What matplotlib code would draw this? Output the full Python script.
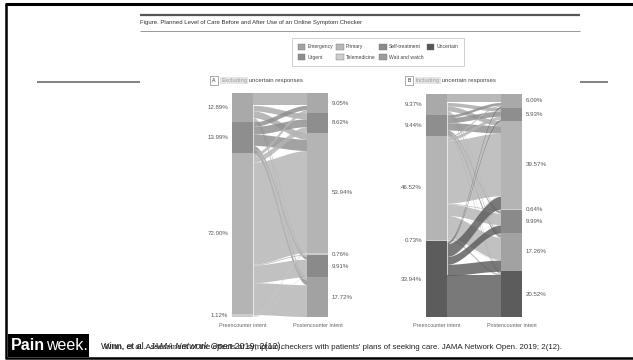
import matplotlib

matplotlib.use("Agg")
import matplotlib.pyplot as plt
import numpy as np
from matplotlib.patches import Patch, Rectangle

plt.rcParams["font.family"] = ["Liberation Sans Narrow", "Liberation Sans", "DejaVu Sans"]

W, H = 633, 360

CATEGORIES = ["Emergency", "Urgent", "Primary", "Telemedicine", "Self-treatment", "Wait and watch", "Uncertain"]
CAT_COLORS = ["#a9a9a9", "#8e8e8e", "#b4b4b4", "#cccccc", "#8a8a8a", "#a2a2a2", "#5c5c5c"]
LEGEND_COLORS = ["#a3a3a3", "#8e8e8e", "#b9b9b9", "#cdcdcd", "#8a8a8a", "#9b9b9b", "#555555"]

# panel A - excluding uncertain responses
A_PRE_CATS = ["Emergency", "Urgent", "Primary", "Telemedicine"]
A_PRE = [12.89, 13.99, 72.00, 1.12]
A_POST_CATS = ["Emergency", "Urgent", "Primary", "Telemedicine", "Self-treatment", "Wait and watch"]
A_POST = [9.05, 8.62, 53.94, 0.76, 9.91, 17.72]
# flows (rows = preencounter, cols = postencounter)
A_FLOWS = [
    [5.50, 2.50, 3.00, 0.10, 0.60, 1.19],
    [2.00, 3.50, 5.00, 0.15, 1.20, 2.14],
    [1.50, 2.50, 45.50, 0.40, 7.90, 14.20],
    [0.05, 0.12, 0.44, 0.11, 0.21, 0.19],
]

# panel B - including uncertain responses
B_PRE_CATS = ["Emergency", "Urgent", "Primary", "Telemedicine", "Uncertain"]
B_PRE = [9.37, 9.44, 46.52, 0.73, 33.94]
B_POST_CATS = ["Emergency", "Urgent", "Primary", "Telemedicine", "Self-treatment", "Wait and watch", "Uncertain"]
B_POST = [6.09, 5.93, 39.57, 0.64, 9.99, 17.26, 20.52]
B_FLOWS = [
    [3.80, 1.60, 2.20, 0.07, 0.40, 0.80, 0.50],
    [1.20, 2.30, 3.30, 0.10, 0.80, 1.20, 0.54],
    [0.56, 1.48, 28.11, 0.32, 5.17, 10.08, 0.80],
    [0.03, 0.05, 0.25, 0.05, 0.12, 0.18, 0.05],
    [0.50, 0.50, 5.71, 0.10, 3.50, 5.00, 18.63],
]

TITLE = "Figure. Planned Level of Care Before and After Use of an Online Symptom Checker"
CITE_BIG = ["Winn, et al. ", "JAMA Network Open", " 2019; 2(12)."]
CITE_SMALL = ("Winn, et al. Assessment of the effects of symptom checkers with patients' plans "
              "of seeking care. JAMA Network Open. 2019; 2(12).")
ARIAL = ["Liberation Sans", "DejaVu Sans"]


def color_of(cat):
    return CAT_COLORS[CATEGORIES.index(cat)]


def px_axes(fig, x0, y0, x1, y1):
    return fig.add_axes([x0 / W, 1 - y1 / H, (x1 - x0) / W, (y1 - y0) / H])


def chain_text(ax, x, y, pieces, styles, **kw):
    # lay text pieces one after another on the same baseline
    t = ax.text(x, y, pieces[0], ha="left", va="baseline", **styles[0], **kw)
    for piece, st in zip(pieces[1:], styles[1:]):
        t = ax.annotate(piece, xy=(1, 0), xycoords=t, ha="left", va="bottom", **st, **kw)
    return t


def draw_sankey(ax, pre_cats, pre, post_cats, post, flows):
    nw = 0.22
    ax.set_xlim(0, 1)
    ax.set_ylim(100, 0)
    ax.axis("off")
    pre_top = np.concatenate([[0], np.cumsum(pre)[:-1]])
    post_top = np.concatenate([[0], np.cumsum(post)[:-1]])
    flows = np.array(flows)

    t = np.linspace(0, 1, 60)
    s = 3 * t**2 - 2 * t**3
    xs = nw + t * (1 - 2 * nw)
    for i in range(len(pre)):
        for j in range(len(post)):
            v = flows[i, j]
            if v <= 0:
                continue
            y0 = pre_top[i] + flows[i, :j].sum()
            y1 = post_top[j] + flows[:i, j].sum()
            top = y0 + (y1 - y0) * s
            ax.fill_between(xs, top, top + v, color=color_of(pre_cats[i]), alpha=0.82, lw=0)

    ax.bar(nw / 2, pre, bottom=pre_top, width=nw, color=[color_of(c) for c in pre_cats], lw=0)
    ax.bar(1 - nw / 2, post, bottom=post_top, width=nw, color=[color_of(c) for c in post_cats], lw=0)

    for v, top in zip(pre, pre_top):
        ax.text(-0.04, top + v / 2, f"{v:.2f}%", ha="right", va="center", fontsize=4.4, color="#555555")
    for v, top in zip(post, post_top):
        ax.text(1.04, top + v / 2, f"{v:.2f}%", ha="left", va="center", fontsize=4.4, color="#555555")
    ax.text(nw / 2, 102.5, "Preencounter intent", ha="center", va="top", fontsize=3.9, color="#666666")
    ax.text(1 - nw / 2, 102.5, "Postencounter intent", ha="center", va="top", fontsize=3.9, color="#666666")


fig = plt.figure(figsize=(W / 100, H / 100), dpi=100)
bg = fig.add_axes([0, 0, 1, 1])
bg.set_xlim(0, W)
bg.set_ylim(H, 0)
bg.axis("off")

# slide frame
bg.plot([5, W], [4, 4], color="black", lw=2.2, solid_capstyle="butt")
bg.plot([6, 6], [4, 358], color="black", lw=1.8, solid_capstyle="butt")
bg.plot([5, W], [357.5, 357.5], color="black", lw=1.8, solid_capstyle="butt")

# header rules and title
bg.plot([140, 580], [14.5, 14.5], color="#555555", lw=1.6, solid_capstyle="butt")
bg.plot([140, 580], [31, 31], color="#999999", lw=0.7, solid_capstyle="butt")
bg.text(140, 22.5, TITLE, ha="left", va="center", fontsize=4.3, color="#333333")
bg.plot([37, 140], [81.5, 81.5], color="#777777", lw=1.3, solid_capstyle="butt")
bg.plot([580, 608], [81.5, 81.5], color="#777777", lw=1.3, solid_capstyle="butt")

# legend
handles = [Patch(facecolor=c, edgecolor="#777777", lw=0.3) for c in LEGEND_COLORS]
leg = fig.legend(handles, CATEGORIES, ncol=4, loc="center", bbox_to_anchor=(378 / W, 1 - 52 / H),
                 fontsize=3.6, frameon=True, fancybox=False, edgecolor="#bbbbbb", handlelength=1.5,
                 handleheight=1.5, handletextpad=0.4, columnspacing=0.7, labelspacing=0.9,
                 borderpad=1.2, borderaxespad=0)
leg.get_frame().set_linewidth(0.6)
for txt in leg.get_texts():
    txt.set_color("#444444")

# panel captions
for bx, tag, word in [(214, "A", "Excluding"), (409, "B", "Including")]:
    bg.text(bx, 80.5, tag, ha="center", va="center", fontsize=3.8, color="#333333",
            bbox=dict(boxstyle="square,pad=0.35", fc="white", ec="#888888", lw=0.5))
    w1 = bg.text(bx + 7, 82, word, ha="left", va="baseline", fontsize=4.3, color="#a0a0a0",
                 bbox=dict(boxstyle="square,pad=0.15", fc="#e6e6e6", ec="none"))
    bg.annotate(" uncertain responses", xy=(1, 0), xycoords=w1, ha="left", va="bottom",
                fontsize=4.3, color="#444444")

ax_a = px_axes(fig, 232, 93, 328, 317)
draw_sankey(ax_a, A_PRE_CATS, A_PRE, A_POST_CATS, A_POST, A_FLOWS)
ax_b = px_axes(fig, 426, 94, 522, 317)
draw_sankey(ax_b, B_PRE_CATS, B_PRE, B_POST_CATS, B_POST, B_FLOWS)

# footer
bg.add_patch(Rectangle((8, 334), 81, 23, color="black", lw=0))
bg.text(11, 346, "Pain", ha="left", va="center", fontsize=11.5, fontweight="bold", color="white",
        family=ARIAL)
bg.text(46, 346, "week.", ha="left", va="center", fontsize=11.5, color="white", family=ARIAL)
chain_text(bg, 101, 349, CITE_BIG,
           [dict(fontsize=6.5), dict(fontsize=6.5, style="italic"), dict(fontsize=6.5)],
           color="#222222", family=ARIAL)
bg.text(104, 349, CITE_SMALL, ha="left", va="baseline", fontsize=5.7, color="#222222", family=ARIAL)

fig.savefig("out.png", dpi=100)
